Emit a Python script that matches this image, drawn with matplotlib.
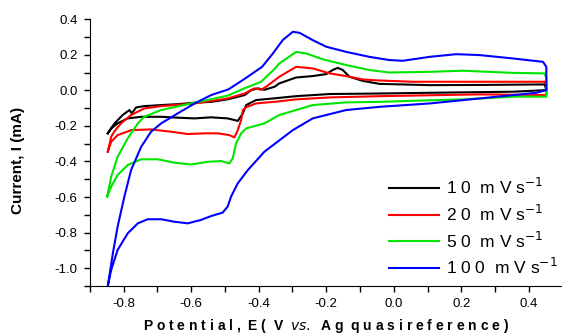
import matplotlib
matplotlib.use("Agg")
import matplotlib.pyplot as plt
from matplotlib.ticker import MultipleLocator, FormatStrFormatter

plt.rcParams['font.family'] = ['Liberation Sans', 'DejaVu Sans']
plt.rcParams['axes.unicode_minus'] = False

# cyclic voltammograms (loop: -0.85 -> 0.45 -> back to -0.85)
E_10 = [-0.847, -0.827, -0.803, -0.783, -0.776, -0.763, -0.739, -0.689, -0.640, -0.590, -0.541,
        -0.492, -0.442, -0.422, -0.403, -0.383, -0.353, -0.339, -0.289, -0.240, -0.200, -0.181,
        -0.166, -0.151, -0.131, -0.092, -0.042, 0.106, 0.254, 0.447, 0.452,
        0.353, 0.106, -0.042, -0.190, -0.289, -0.353, -0.408, -0.437, -0.447, -0.462, -0.492,
        -0.541, -0.590, -0.640, -0.689, -0.748, -0.788, -0.818, -0.837, -0.847]
I_10 = [-0.242, -0.186, -0.139, -0.111, -0.130, -0.096, -0.089, -0.083, -0.078, -0.070, -0.065,
        -0.051, -0.027, 0.001, 0.011, 0.003, 0.020, 0.039, 0.072, 0.080, 0.091, 0.114,
        0.126, 0.114, 0.076, 0.053, 0.036, 0.029, 0.030, 0.033, 0.001,
        -0.008, -0.014, -0.018, -0.021, -0.033, -0.045, -0.055, -0.083, -0.130, -0.172, -0.158,
        -0.152, -0.158, -0.154, -0.149, -0.149, -0.158, -0.186, -0.214, -0.242]

E_20 = [-0.847, -0.837, -0.827, -0.808, -0.778, -0.739, -0.689, -0.590, -0.492, -0.442, -0.413,
        -0.393, -0.378, -0.339, -0.289, -0.240, -0.190, -0.141, -0.092, -0.042, 0.056, 0.254,
        0.447, 0.452, 0.452,
        0.254, -0.042, -0.190, -0.289, -0.339, -0.408, -0.437, -0.447, -0.452, -0.462, -0.472,
        -0.487, -0.521, -0.561, -0.610, -0.659, -0.719, -0.778, -0.818, -0.837, -0.847]
I_20 = [-0.345, -0.261, -0.230, -0.186, -0.139, -0.102, -0.089, -0.074, -0.046, -0.018, 0.011,
        0.003, 0.020, 0.076, 0.132, 0.123, 0.095, 0.080, 0.061, 0.055, 0.048, 0.048,
        0.048, 0.029, -0.027,
        -0.023, -0.033, -0.040, -0.051, -0.062, -0.074, -0.095, -0.111, -0.167, -0.224, -0.265,
        -0.252, -0.242, -0.242, -0.246, -0.233, -0.220, -0.224, -0.252, -0.289, -0.345]

E_50 = [-0.849, -0.837, -0.818, -0.788, -0.758, -0.739, -0.689, -0.590, -0.492, -0.442, -0.393,
        -0.353, -0.339, -0.289, -0.259, -0.210, -0.141, -0.072, -0.013, 0.106, 0.205, 0.353,
        0.447, 0.452, 0.452,
        0.353, 0.205, 0.056, -0.042, -0.141, -0.240, -0.339, -0.383, -0.437, -0.452, -0.467,
        -0.477, -0.487, -0.511, -0.551, -0.600, -0.650, -0.699, -0.748, -0.788, -0.818, -0.837,
        -0.849]
I_50 = [-0.598, -0.486, -0.374, -0.270, -0.186, -0.149, -0.111, -0.070, -0.030, 0.011, 0.048,
        0.120, 0.151, 0.216, 0.207, 0.174, 0.142, 0.114, 0.100, 0.104, 0.110, 0.098,
        0.095, 0.067, -0.036,
        -0.036, -0.051, -0.059, -0.065, -0.068, -0.083, -0.139, -0.186, -0.214, -0.242, -0.298,
        -0.383, -0.411, -0.398, -0.402, -0.417, -0.407, -0.388, -0.388, -0.420, -0.476, -0.542,
        -0.598]

E_100 = [-0.847, -0.832, -0.818, -0.798, -0.778, -0.748, -0.719, -0.689, -0.640, -0.590, -0.541,
         -0.490, -0.442, -0.390, -0.358, -0.329, -0.299, -0.279, -0.240, -0.200, -0.141, -0.072,
         -0.013, 0.027, 0.106, 0.185, 0.254, 0.353, 0.442, 0.452, 0.452,
         0.422, 0.254, 0.106, -0.042, -0.141, -0.240, -0.299, -0.383, -0.432, -0.462, -0.482,
         -0.492, -0.507, -0.541, -0.571, -0.610, -0.650, -0.689, -0.729, -0.758, -0.788, -0.818,
         -0.837, -0.847]
I_100 = [-1.100, -0.916, -0.767, -0.598, -0.448, -0.317, -0.233, -0.186, -0.130, -0.074, -0.027,
         0.005, 0.064, 0.132, 0.207, 0.282, 0.329, 0.323, 0.282, 0.245, 0.216, 0.188,
         0.170, 0.166, 0.188, 0.203, 0.198, 0.179, 0.160, 0.132, 0.001,
         -0.014, -0.046, -0.074, -0.093, -0.111, -0.158, -0.224, -0.345, -0.448, -0.523, -0.598,
         -0.654, -0.688, -0.707, -0.729, -0.748, -0.739, -0.725, -0.725, -0.748, -0.804, -0.898,
         -1.010, -1.100]

labels = ["1 0  m V s$^{-1}$", "2 0  m V s$^{-1}$", "5 0  m V s$^{-1}$", "1 0 0  m V s$^{-1}$"]
colors = ["black", "#ff0000", "#00e600", "#0000ff"]
curves = [(E_10, I_10), (E_20, I_20), (E_50, I_50), (E_100, I_100)]

fig = plt.figure(figsize=(5.62, 3.36), dpi=100)
ax = fig.add_axes([0.160, 0.149, 0.838, 0.794])

for (E, I), c, lab in zip(curves, colors, labels):
    ax.plot(E, I, color=c, lw=1.5, label=lab, solid_joinstyle='round')

ax.set_xlim(-0.9, 0.495)
ax.set_ylim(-1.1, 0.4)
ax.set_xticks([-0.8, -0.6, -0.4, -0.2, 0.0, 0.2, 0.4])
ax.set_yticks([-1.0, -0.8, -0.6, -0.4, -0.2, 0.0, 0.2, 0.4])
ax.xaxis.set_minor_locator(MultipleLocator(0.1))
ax.yaxis.set_minor_locator(MultipleLocator(0.1))
ax.xaxis.set_major_formatter(FormatStrFormatter('%.1f'))
ax.yaxis.set_major_formatter(FormatStrFormatter('%.1f'))
ax.tick_params(which='major', direction='out', length=4, width=1, labelsize=9.5, pad=5)
ax.tick_params(which='minor', direction='out', length=4, width=1)
for s in ['top', 'right']:
    ax.spines[s].set_visible(False)

ax.set_ylabel("Current, I (mA)", fontsize=11, fontweight='bold')
ax.yaxis.set_label_coords(-0.138, 0.47)
ax.set_xlabel("P o t e n t i a l ,  E (  V  $\\it{vs.}$  A g  q u a s i r e f e r e n c e )",
              fontsize=10, fontweight='bold')
ax.xaxis.set_label_coords(0.502, -0.118)

ax.legend(loc='lower right', bbox_to_anchor=(1.012, 0.0), frameon=False, fontsize=12.5,
          handlelength=2.9, labelspacing=0.38, handletextpad=0.4, borderaxespad=0.1)

fig.savefig("out.png", dpi=100)
